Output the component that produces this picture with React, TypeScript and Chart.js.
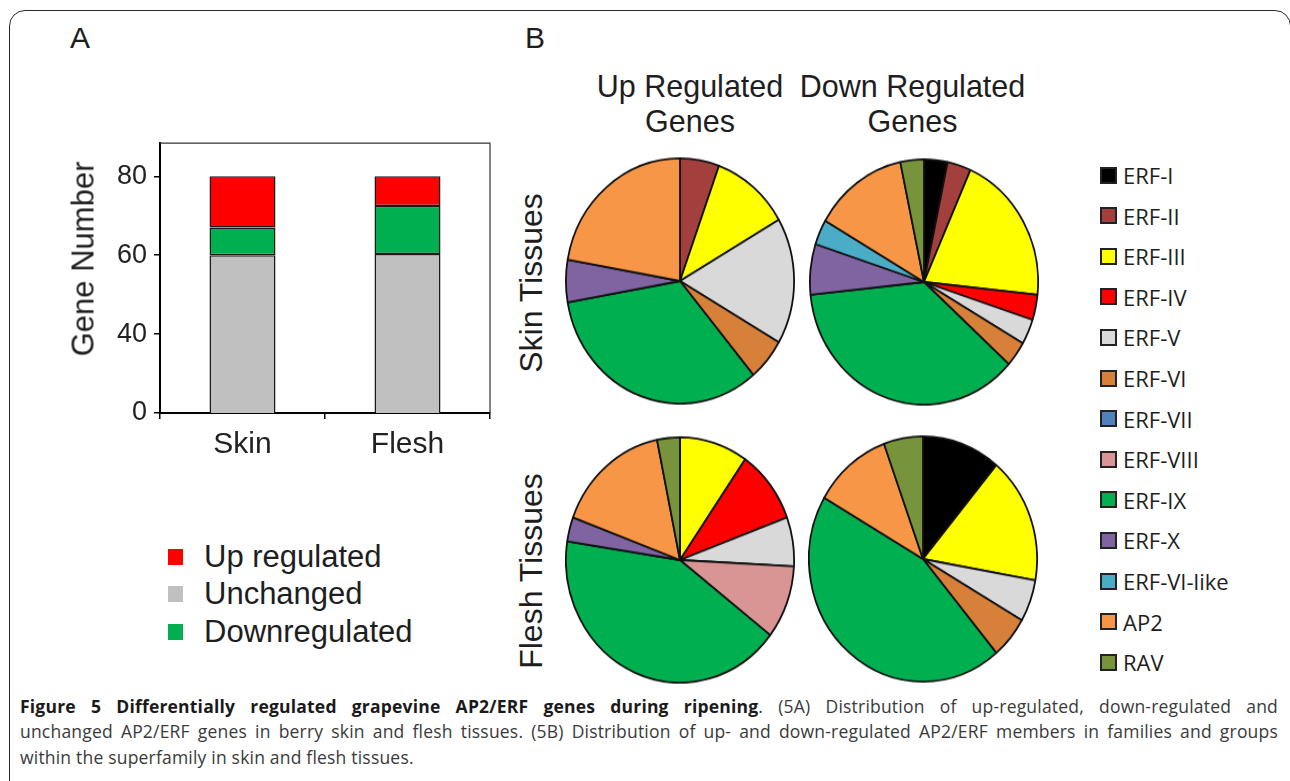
import React, { useEffect, useRef } from 'react';
import { Chart, registerables } from 'chart.js';

Chart.register(...registerables);

// ---------- Panel A data ----------
const barCategories = ['Skin', 'Flesh'];
const unchangedGenes = [60, 60.3];
const downGenes = [7, 12.2];
const upGenes = [13, 7.5];
// the printed axis is broken: its lowest tick sits at 20 and is labelled "0"
const yAxisMin = 20;
const yAxisMax = 88.4;
const yTickValues = [20, 40, 60, 80];
const yTickLabels = ['0', '40', '60', '80'];

const barLegendLabels = ['Up regulated', 'Unchanged', 'Downregulated'];
const barLegendColors = ['#FF0000', '#C0C0C0', '#00B050'];

// ---------- Panel B data ----------
const families = ['ERF-I', 'ERF-II', 'ERF-III', 'ERF-IV', 'ERF-V', 'ERF-VI', 'ERF-VII', 'ERF-VIII', 'ERF-IX', 'ERF-X', 'ERF-VI-like', 'AP2', 'RAV'];
const familyColors = ['#000000', '#A3403E', '#FFFF00', '#FF0000', '#D9D9D9', '#D6803A', '#4F81BD', '#D99594', '#00B050', '#8064A2', '#4BACC6', '#F79646', '#77933C'];
const skinUp = [0, 1, 2, 0, 3, 1, 0, 0, 6, 1, 0, 4, 0];
const skinDown = [1, 1, 6, 1, 1, 1, 0, 0, 11, 2, 1, 4, 1];
const fleshUp = [0, 0, 3, 3, 2, 0, 0, 3, 13, 1, 0, 5, 1];
const fleshDown = [2, 0, 3, 0, 1, 1, 0, 0, 8, 0, 0, 2, 1];

const ARIAL = '"Liberation Sans", Arial, sans-serif';
const OPEN = '"Open Sans", "Noto Sans", sans-serif';

const framePlugin = {
  id: 'frame',
  afterDraw(chart: any) {
    const { ctx, chartArea } = chart;
    ctx.save();
    ctx.strokeStyle = '#333';
    ctx.lineWidth = 1.2;
    ctx.beginPath();
    ctx.moveTo(chartArea.left, chartArea.top);
    ctx.lineTo(chartArea.right, chartArea.top);
    ctx.lineTo(chartArea.right, chartArea.bottom);
    ctx.stroke();
    ctx.restore();
  },
};

function BarChart() {
  const ref = useRef<HTMLCanvasElement | null>(null);
  useEffect(() => {
    const chart = new Chart(ref.current as HTMLCanvasElement, {
      type: 'bar',
      data: {
        labels: barCategories,
        datasets: [
          { label: 'Unchanged', data: unchangedGenes, backgroundColor: '#C0C0C0' },
          { label: 'Downregulated', data: downGenes, backgroundColor: '#00B050' },
          { label: 'Up regulated', data: upGenes, backgroundColor: '#FF0000' },
        ],
      },
      options: {
        responsive: false,
        animation: false,
        devicePixelRatio: 1,
        layout: { padding: { left: 24, right: 20, top: 17, bottom: 0 } },
        plugins: { legend: { display: false }, tooltip: { enabled: false } },
        datasets: {
          bar: {
            barPercentage: 0.4,
            categoryPercentage: 1,
            borderWidth: 1.5,
            borderColor: '#1a1a1a',
            borderSkipped: false,
            clip: 0,
          } as any,
        },
        scales: {
          x: {
            stacked: true,
            z: 1,
            grid: { offset: true, drawOnChartArea: false, drawTicks: true, tickLength: 6, color: '#000', lineWidth: 1.5 },
            border: { display: true, color: '#000', width: 2 },
            ticks: { font: { family: ARIAL, size: 30 }, color: '#222', padding: 8 },
            afterFit: (s: any) => { s.height = 67; },
          },
          y: {
            stacked: true,
            z: 1,
            min: yAxisMin,
            max: yAxisMax,
            afterBuildTicks: (s: any) => { s.ticks = yTickValues.map((v) => ({ value: v })); },
            grid: { drawOnChartArea: false, drawTicks: true, tickLength: 6, color: '#000', lineWidth: 1.5 },
            border: { display: true, color: '#000', width: 2 },
            ticks: {
              font: { family: ARIAL, size: 27 },
              color: '#222',
              padding: 7,
              callback: (v: any) => {
                const k = yTickValues.indexOf(v);
                return k >= 0 ? yTickLabels[k] : '';
              },
            },
            afterFit: (s: any) => { s.width = 96; },
          },
        },
      } as any,
      plugins: [framePlugin],
    });
    return () => chart.destroy();
  }, []);
  return (
    <canvas
      ref={ref}
      width={470}
      height={360}
      style={{ position: 'absolute', left: 40, top: 120, width: 470, height: 360 }}
    />
  );
}

const PIE_SIZE = 230;

function Pie({ values, cx, cy }: { values: number[]; cx: number; cy: number }) {
  const ref = useRef<HTMLCanvasElement | null>(null);
  useEffect(() => {
    const idx = values.map((_, i) => i).filter((i) => values[i] > 0);
    const chart = new Chart(ref.current as HTMLCanvasElement, {
      type: 'pie',
      data: {
        labels: idx.map((i) => families[i]),
        datasets: [
          {
            data: idx.map((i) => values[i]),
            backgroundColor: idx.map((i) => familyColors[i]),
            borderColor: '#111',
            borderWidth: 1.8,
            hoverOffset: 0,
          },
        ],
      },
      options: {
        responsive: false,
        animation: false,
        devicePixelRatio: 1,
        layout: { padding: 0 },
        plugins: { legend: { display: false }, tooltip: { enabled: false } },
      } as any,
    });
    return () => chart.destroy();
  }, []);
  return (
    <div
      style={{
        position: 'absolute',
        left: cx - PIE_SIZE / 2,
        top: cy - PIE_SIZE / 2,
        width: PIE_SIZE,
        height: PIE_SIZE,
        transform: 'scaleY(1.075)',
        transformOrigin: 'center center',
      }}
    >
      <canvas ref={ref} width={PIE_SIZE} height={PIE_SIZE} style={{ width: PIE_SIZE, height: PIE_SIZE }} />
    </div>
  );
}

function Txt({ left, baseline, size, children, family = ARIAL, style = {} }: any) {
  return (
    <div
      style={{
        position: 'absolute',
        left,
        top: baseline - 0.8465 * size,
        fontFamily: family,
        fontSize: size,
        lineHeight: size + 'px',
        whiteSpace: 'nowrap',
        color: '#1e1e1e',
        ...style,
      }}
    >
      {children}
    </div>
  );
}

function Rotated({ cx, cy, size, children }: any) {
  return (
    <div
      style={{
        position: 'absolute',
        left: cx,
        top: cy,
        transform: 'translate(-50%, -50%) rotate(-90deg)',
        fontFamily: ARIAL,
        fontSize: size,
        lineHeight: size + 'px',
        whiteSpace: 'nowrap',
        color: '#1e1e1e',
      }}
    >
      {children}
    </div>
  );
}

function PieTitle({ cx, lines }: { cx: number; lines: string[] }) {
  return (
    <div
      style={{
        position: 'absolute',
        left: cx - 150,
        top: 68.8,
        width: 300,
        textAlign: 'center',
        fontFamily: ARIAL,
        fontSize: 30.5,
        lineHeight: '35px',
        color: '#1e1e1e',
      }}
    >
      {lines.map((l) => (
        <div key={l}>{l}</div>
      ))}
    </div>
  );
}

export default function App() {
  useEffect(() => {
    document.body.style.margin = '0';
  }, []);
  const capStyle: any = {
    position: 'absolute',
    left: 20,
    width: 1258,
    fontFamily: OPEN,
    fontSize: 17.5,
    letterSpacing: 0.2,
    lineHeight: '25.7px',
    color: '#3a3a3a',
    whiteSpace: 'nowrap',
  };
  const justify: any = { textAlign: 'justify', textAlignLast: 'justify', whiteSpace: 'normal' };
  return (
    <div
      style={{
        position: 'absolute',
        left: 0,
        top: 0,
        width: 1290,
        height: 781,
        overflow: 'hidden',
        background: '#fff',
      }}
    >
      <div
        style={{
          position: 'absolute',
          left: 9,
          top: 10,
          width: 1282,
          height: 790,
          border: '1.5px solid #2a2a2a',
          borderRadius: 16,
          boxSizing: 'border-box',
        }}
      />

      <Txt left={70} baseline={48.3} size={30}>A</Txt>
      <Txt left={525} baseline={48.3} size={30}>B</Txt>

      {/* Panel A */}
      <BarChart />
      <Rotated cx={83} cy={259} size={31}>Gene Number</Rotated>
      {barLegendLabels.map((label, i) => {
        const baseline = 567 + i * 37.5;
        return (
          <React.Fragment key={label}>
            <div
              style={{
                position: 'absolute',
                left: 168,
                top: baseline - 18.5,
                width: 15,
                height: 16,
                background: barLegendColors[i],
              }}
            />
            <Txt left={204} baseline={baseline} size={31}>{label}</Txt>
          </React.Fragment>
        );
      })}

      {/* Panel B */}
      <PieTitle cx={690} lines={['Up Regulated', 'Genes']} />
      <PieTitle cx={912.5} lines={['Down Regulated', 'Genes']} />
      <Rotated cx={531} cy={283} size={32}>Skin Tissues</Rotated>
      <Rotated cx={531} cy={571} size={32}>Flesh Tissues</Rotated>

      <Pie values={skinUp} cx={680} cy={281} />
      <Pie values={skinDown} cx={924} cy={281.5} />
      <Pie values={fleshUp} cx={679.5} cy={560} />
      <Pie values={fleshDown} cx={922.5} cy={559.3} />

      {families.map((f, i) => {
        const cy = 175 + i * 40.6;
        return (
          <React.Fragment key={f}>
            <div
              style={{
                position: 'absolute',
                left: 1100,
                top: cy - 8.5,
                width: 17,
                height: 17,
                background: familyColors[i],
                border: '2px solid #222',
                boxSizing: 'border-box',
              }}
            />
            <div
              style={{
                position: 'absolute',
                left: 1123,
                top: cy - 20,
                height: 40,
                fontFamily: OPEN,
                fontSize: 22,
                lineHeight: '40px',
                whiteSpace: 'nowrap',
                color: '#1e1e1e',
              }}
            >
              {f}
            </div>
          </React.Fragment>
        );
      })}

      {/* Caption */}
      <div style={{ ...capStyle, ...justify, top: 693.6 }}>
        <b style={{ color: '#1a1a1a' }}>Figure 5 Differentially regulated grapevine AP2/ERF genes during ripening</b>. (5A) Distribution of up-regulated, down-regulated and
      </div>
      <div style={{ ...capStyle, ...justify, top: 719.3 }}>
        unchanged AP2/ERF genes in berry skin and flesh tissues. (5B) Distribution of up- and down-regulated AP2/ERF members in families and groups
      </div>
      <div style={{ ...capStyle, top: 745 }}>within the superfamily in skin and flesh tissues.</div>
    </div>
  );
}
